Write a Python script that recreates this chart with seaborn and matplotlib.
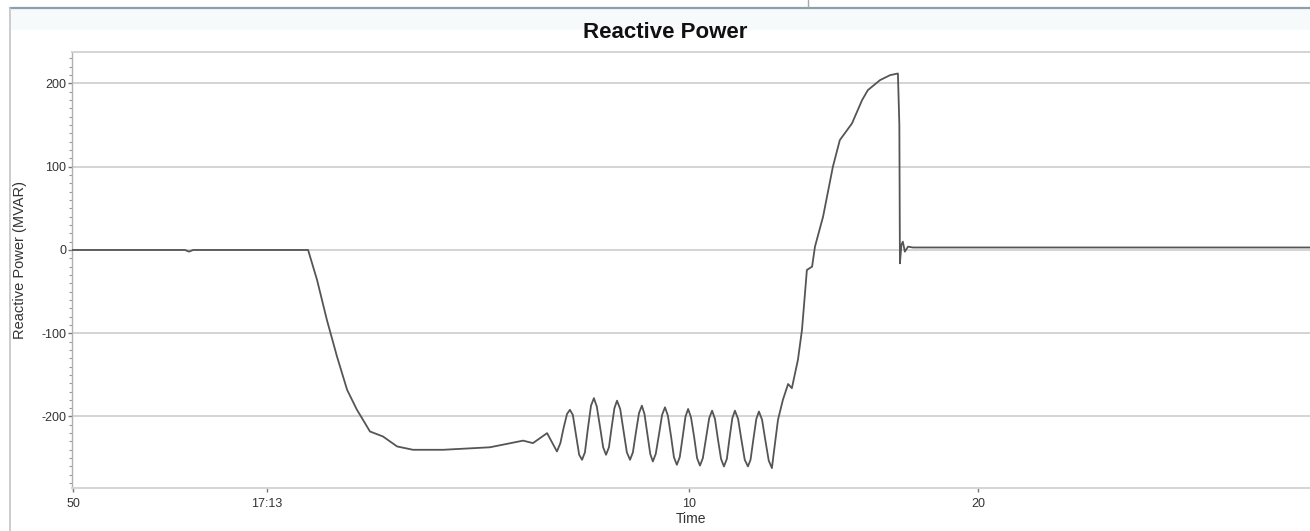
import numpy as np
import pandas as pd
import matplotlib
matplotlib.use("Agg")
import matplotlib.pyplot as plt
from matplotlib.lines import Line2D
from matplotlib.patches import Rectangle
from matplotlib.ticker import MultipleLocator
import seaborn as sns

# Recorded reactive power trace (time in seconds, value in MVAR)
time_s = [
    -11.35, -7.44, -7.30, -7.16, -3.29, -3.18, -2.87, -2.53, -2.18, -1.83,
    -1.49, -1.28, -1.04, -0.59, -0.10, 0.45, 1.49, 3.11, 4.26, 4.60,
    5.09, 5.43,
    5.55, 5.66, 5.78, 5.88, 5.98, 6.09, 6.20, 6.30,
    6.40, 6.50, 6.61, 6.71, 6.81, 6.92, 7.03, 7.13,
    7.23, 7.32, 7.42, 7.51, 7.62, 7.73, 7.85, 7.96,
    8.06, 8.16, 8.27, 8.37, 8.46, 8.56, 8.66, 8.75,
    8.85, 8.96, 9.07, 9.17, 9.27, 9.38, 9.48, 9.58,
    9.68, 9.78, 9.88, 9.97, 10.07, 10.18, 10.28, 10.38,
    10.48, 10.59, 10.70, 10.80, 10.90, 11.00, 11.11, 11.21,
    11.31, 11.40, 11.50, 11.59, 11.70, 11.81, 11.93, 12.04,
    12.13, 12.23, 12.33, 12.42, 12.53, 12.64, 12.76, 12.87,
    12.93, 13.08, 13.25, 13.43, 13.56, 13.77, 13.91, 14.01, 14.08, 14.26,
    14.36, 14.64, 14.98, 15.22, 15.64, 15.99, 16.19, 16.61, 16.96, 17.23,
    17.28, 17.30, 17.35, 17.40, 17.47, 17.58, 17.75, 31.49,
]
mvar = [
    0, 0, -2, 0, 0, 0, -36, -84, -128, -168,
    -192, -204, -218, -224, -236, -240, -240, -237, -229, -232,
    -220, -242,
    -232, -214, -197, -192, -198, -222, -246, -252,
    -243, -215, -187, -178, -188, -212, -237, -246,
    -237, -214, -190, -181, -191, -216, -243, -252,
    -243, -220, -196, -187, -197, -221, -245, -254,
    -245, -222, -198, -189, -199, -224, -249, -258,
    -249, -225, -200, -191, -201, -225, -250, -259,
    -250, -226, -202, -193, -203, -227, -251, -260,
    -251, -227, -202, -193, -203, -227, -252, -260,
    -252, -227, -203, -194, -204, -228, -253, -262,
    -245, -204, -180, -161, -166, -132, -96, -54, -24, -20,
    4, 40, 100, 132, 152, 180, 192, 204, 210, 212,
    150, -16, 6, 10, -2, 4, 3, 3,
]

# Axis ticks
y_ticks = [-200, -100, 0, 100, 200]
x_tick_pos = [-11.3, -4.6, 10, 20]
x_tick_labels = ["50", "17:13", "10", "20"]

df = pd.DataFrame({"Time": time_s, "Reactive Power (MVAR)": mvar})

sns.set_theme(style="white")
plt.rcParams["font.family"] = ["Liberation Sans", "DejaVu Sans"]
plt.rcParams["axes.unicode_minus"] = False

W, H = 1310, 531
fig = plt.figure(figsize=(W / 100, H / 100), dpi=100)
fig.patch.set_facecolor("white")

# Window frame around the chart panel
fig.add_artist(Rectangle((10 / W, 1 - 30 / H), 1 - 10 / W, 22 / H,
                         transform=fig.transFigure, facecolor="#f6fafb",
                         edgecolor="none", zorder=0))
fig.add_artist(Line2D([10 / W, 1], [1 - 7.5 / H, 1 - 7.5 / H],
                      transform=fig.transFigure, color="#8c9faa", lw=1.6))
fig.add_artist(Line2D([10 / W, 10 / W], [0, 1 - 7.5 / H],
                      transform=fig.transFigure, color="#c4c4c4", lw=1.2))
fig.add_artist(Line2D([808 / W, 808 / W], [1 - 7 / H, 1],
                      transform=fig.transFigure, color="#a8a8a8", lw=1.0))

ax = fig.add_axes([72 / W, 1 - 488 / H, 1 - 72 / W, (488 - 52) / H])
ax.set_facecolor("white")

sns.lineplot(data=df, x="Time", y="Reactive Power (MVAR)", ax=ax,
             color="#555555", lw=1.3, zorder=3)

ax.set_xlim(-11.35, 31.49)
ax.set_ylim(-285.9, 237.8)

ax.set_yticks(y_ticks)
ax.yaxis.set_minor_locator(MultipleLocator(10))
ax.set_xticks(x_tick_pos)
ax.set_xticklabels(x_tick_labels)

ax.grid(axis="y", which="major", color="#d4d4d4", lw=1.4)
ax.grid(axis="x", visible=False)

for side in ("top", "bottom"):
    ax.spines[side].set_color("#d4d4d4")
    ax.spines[side].set_linewidth(1.4)
ax.spines["right"].set_visible(False)
ax.spines["left"].set_color("#b0b0b0")
ax.spines["left"].set_linewidth(1.0)

ax.tick_params(axis="y", which="major", left=True, length=3, width=1,
               color="#777777", labelsize=9, labelcolor="#333333", pad=1)
ax.tick_params(axis="y", which="minor", left=True, length=2, width=0.8,
               color="#999999")
ax.tick_params(axis="x", which="major", bottom=True, length=3, width=1,
               color="#777777", labelsize=9, labelcolor="#333333", pad=4)

ax.set_ylabel("Reactive Power (MVAR)", fontsize=10.5, color="#333333")
ax.yaxis.set_label_coords((27 - 72) / (W - 72), (488 - 260) / 436)
ax.set_xlabel("Time", fontsize=10, color="#333333", labelpad=1.5)

fig.text(665 / W, 1 - 33 / H, "Reactive Power", ha="center", va="center",
         fontsize=16, fontweight="bold", color="#111111")

fig.savefig("out.png", dpi=100, facecolor="white")
